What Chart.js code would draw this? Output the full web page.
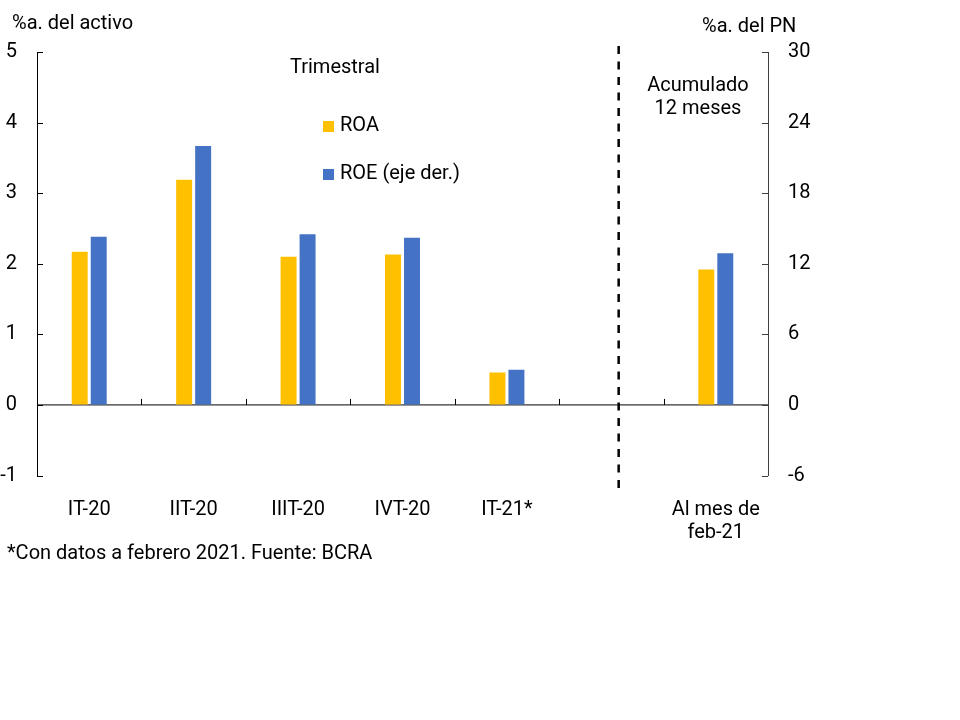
<!DOCTYPE html>
<html lang="es">
<head>
  <meta charset="UTF-8">
  <title>ROA y ROE</title>
  <script src="https://cdn.jsdelivr.net/npm/chart.js"></script>
  <style>
    body { margin: 0; background: #fff; font-family: Roboto, "Noto Sans", sans-serif; }
    #wrap { position: relative; width: 960px; height: 720px; }
    .txt { position: absolute; font-size: 20px; line-height: 22px; color: #000; white-space: nowrap; }
    .sq { display: inline-block; width: 11px; height: 11px; margin-right: 6px; vertical-align: -1px; }
  </style>
</head>
<body>
  <div id="wrap">
    <canvas id="grafico" width="960" height="720"></canvas>
    <div class="txt" style="left:12px; top:11px;">%a. del activo</div>
    <div class="txt" style="left:702px; top:14px;">%a. del PN</div>
    <div class="txt" style="left:290px; top:55px;">Trimestral</div>
    <div class="txt" id="legROA" style="left:323px; top:113px;"><span class="sq"></span>ROA</div>
    <div class="txt" id="legROE" style="left:323px; top:161px;"><span class="sq"></span>ROE (eje der.)</div>
    <div class="txt" style="left:643px; top:73px; width:110px; text-align:center; line-height:23px;">Acumulado<br>12 meses</div>
    <div class="txt" style="left:7px; top:541px;">*Con datos a febrero 2021. Fuente: BCRA</div>
  </div>

  <script>
    // datos
    const categorias = ['IT-20', 'IIT-20', 'IIIT-20', 'IVT-20', 'IT-21*', '', ['Al mes de', 'feb-21']];
    const roa = [2.17, 3.19, 2.10, 2.13, 0.46, null, 1.92];
    const roe = [14.3, 22.0, 14.5, 14.2, 3.0, null, 12.9];
    const ticksIzq = { min: -1, max: 5, step: 1 };
    const ticksDer = { min: -6, max: 30, step: 6 };
    const colorROA = '#FFC000';
    const colorROE = '#4472C4';
    const divisor = 5.07; // posicion de la linea punteada (indice de categoria)

    document.querySelector('#legROA .sq').style.background = colorROA;
    document.querySelector('#legROE .sq').style.background = colorROE;

    const decoraciones = {
      id: 'decoraciones',
      beforeDatasetsDraw(chart) {
        const { ctx, chartArea, scales } = chart;
        const x = scales.x, y = scales.y, y2 = scales.y2;
        const y0 = y.getPixelForValue(0);
        ctx.save();
        ctx.strokeStyle = '#000';
        ctx.lineWidth = 1;
        // linea del cero
        ctx.beginPath();
        ctx.moveTo(chartArea.left, y0);
        ctx.lineTo(chartArea.right, y0);
        ctx.stroke();
        // marcas entre categorias
        for (let i = 1; i < categorias.length; i++) {
          const px = Math.round(x.getPixelForValue(i - 0.5)) + 0.5;
          ctx.beginPath();
          ctx.moveTo(px, y0 - 6);
          ctx.lineTo(px, y0);
          ctx.stroke();
        }
        // marcas de los ejes hacia adentro
        y.ticks.forEach(t => {
          const py = Math.round(y.getPixelForValue(t.value)) + 0.5;
          ctx.beginPath();
          ctx.moveTo(chartArea.left, py);
          ctx.lineTo(chartArea.left + 6, py);
          ctx.stroke();
        });
        ctx.strokeStyle = '#404040';
        y2.ticks.forEach(t => {
          const py = Math.round(y2.getPixelForValue(t.value)) + 0.5;
          ctx.beginPath();
          ctx.moveTo(chartArea.right - 6, py);
          ctx.lineTo(chartArea.right, py);
          ctx.stroke();
        });
        ctx.restore();
      },
      afterDatasetsDraw(chart) {
        const { ctx, chartArea, scales } = chart;
        const px = scales.x.getPixelForValue(divisor);
        ctx.save();
        ctx.strokeStyle = '#000';
        ctx.lineWidth = 2.5;
        ctx.setLineDash([8, 7.5]);
        ctx.beginPath();
        ctx.moveTo(px, chartArea.top - 6);
        ctx.lineTo(px, chartArea.bottom + 20);
        ctx.stroke();
        ctx.restore();
      }
    };

    const fuente = { family: 'Roboto', size: 20, lineHeight: 1.15 };

    new Chart(document.getElementById('grafico').getContext('2d'), {
      type: 'bar',
      data: {
        labels: categorias,
        datasets: [
          { label: 'ROA', data: roa, backgroundColor: colorROA, yAxisID: 'y' },
          { label: 'ROE (eje der.)', data: roe, backgroundColor: colorROE, yAxisID: 'y2' }
        ]
      },
      options: {
        responsive: false,
        animation: false,
        categoryPercentage: 0.364,
        barPercentage: 0.84,
        layout: { padding: { top: 52, left: 0, right: 0, bottom: 0 } },
        plugins: {
          legend: { display: false },
          tooltip: { enabled: false }
        },
        scales: {
          x: {
            grid: { display: false },
            border: { display: false },
            ticks: { font: fuente, color: '#000', padding: 15, maxRotation: 0, autoSkip: false },
            afterFit: s => { s.height = 244.5; }
          },
          y: {
            position: 'left',
            min: ticksIzq.min, max: ticksIzq.max,
            grid: { drawOnChartArea: false, drawTicks: false },
            border: { display: true, color: '#000', width: 1 },
            ticks: { stepSize: ticksIzq.step, font: fuente, color: '#000', padding: 20 },
            afterFit: s => { s.width = 37; }
          },
          y2: {
            position: 'right',
            min: ticksDer.min, max: ticksDer.max,
            grid: { drawOnChartArea: false, drawTicks: false },
            border: { display: true, color: '#404040', width: 1 },
            ticks: { stepSize: ticksDer.step, font: fuente, color: '#000', padding: 20 },
            afterFit: s => { s.width = 192; }
          }
        }
      },
      plugins: [decoraciones]
    });
  </script>
</body>
</html>
